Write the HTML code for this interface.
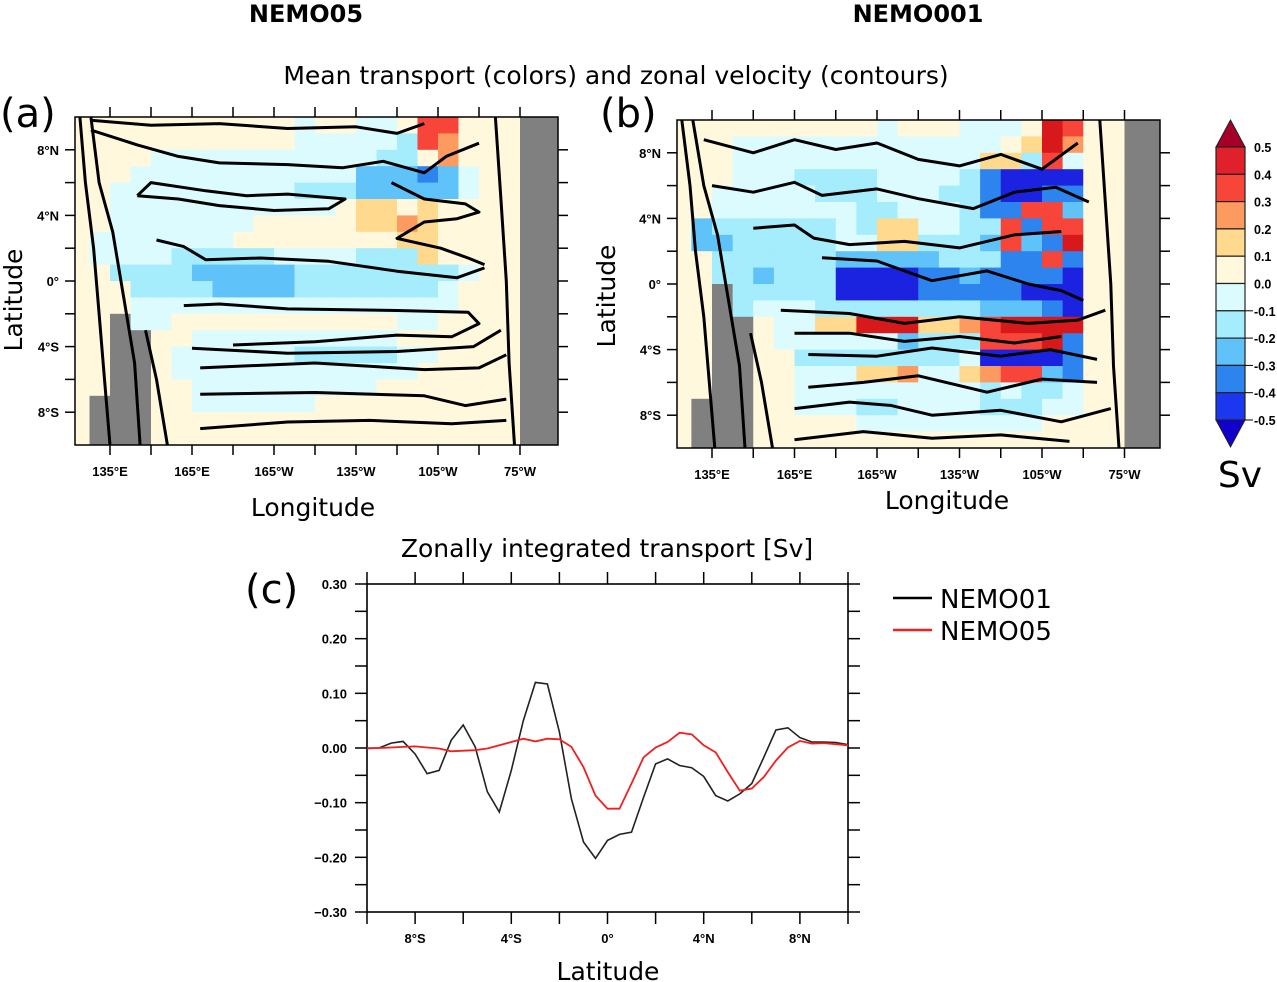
<!DOCTYPE html>
<html><head><meta charset="utf-8"><style>
html,body{margin:0;padding:0;background:#fff;}
svg{display:block;font-family:"Liberation Sans",sans-serif;}
.dj{font-family:"DejaVu Sans","Liberation Sans",sans-serif;}
</style></head><body>
<svg id="fig" width="1277" height="982" viewBox="0 0 1277 982" xmlns="http://www.w3.org/2000/svg">
<text class="dj" x="306" y="22" font-size="24" font-weight="bold" text-anchor="middle">NEMO05</text>
<text class="dj" x="918" y="22" font-size="24" font-weight="bold" text-anchor="middle">NEMO001</text>
<text class="dj" x="616" y="84" font-size="25" text-anchor="middle">Mean transport (colors) and zonal velocity (contours)</text>
<text class="dj" x="0" y="127" font-size="40">(a)</text>
<text class="dj" x="600" y="127" font-size="40">(b)</text>
<text class="dj" transform="translate(22,300) rotate(-90)" font-size="25" text-anchor="middle">Latitude</text>
<text class="dj" transform="translate(615,296) rotate(-90)" font-size="25" text-anchor="middle">Latitude</text>
<text class="dj" x="313" y="516" font-size="25" text-anchor="middle">Longitude</text>
<text class="dj" x="947" y="509" font-size="25" text-anchor="middle">Longitude</text>
<text class="dj" x="1240" y="487" font-size="36" text-anchor="middle">Sv</text>
<text class="dj" x="607" y="557" font-size="25" text-anchor="middle">Zonally integrated transport [Sv]</text>
<text class="dj" x="245" y="603" font-size="40">(c)</text>
<text class="dj" x="608" y="980" font-size="25" text-anchor="middle">Latitude</text>
<g id="layer"></g>
</svg>
<script>
// ---------- data ----------
const lonTicks=[135,165,195,225,255,285];
const lonTickLabels=["135°E","165°E","165°W","135°W","105°W","75°W"];
const latTicks=[8,4,0,-4,-8];
const latTickLabels=["8°N","4°N","0°","4°S","8°S"];
const cbLevels=[0.5,0.4,0.3,0.2,0.1,0.0,-0.1,-0.2,-0.3,-0.4,-0.5];
const cbLabels=["0.5","0.4","0.3","0.2","0.1","0.0","-0.1","-0.2","-0.3","-0.4","-0.5"];
// heatmap codes: . cream, o light orange, O orange, r red, R dark red, c light cyan, b light blue, m mid blue, B blue, N navy, g land
const heatA=[
"...........c..cc.rr...gg",
"...........cccccbrO...gg",
"....cccccccccccbb.O...gg",
"...cccccccccccmmmBmc..gg",
"..cccccccccbbbmmmmmc..gg",
"..ccccccccccc.oo.o....gg",
"..ccccccc.....ooOo....gg",
".ccccccc........oo....gg",
".ccccbbbbbccccbbbo....gg",
"..bbbbmmmmmbbbbbbbbc..gg",
"...bbbbmmmmbbbbbbbc...gg",
"...cccccccccccccccc...gg",
"..gcc...........cc....gg",
"..gg..cccccccccc......gg",
"..gg.ccccccbbbbbcc....gg",
"..gg.cccccccccccc.....gg",
"..gg..ccccccccc.......gg",
".ggg..cccccc..........gg",
".ggg..................gg",
".ggg..................gg"];
const heatB=[
"..........c...ccc.Rr..gg",
"...ccccccccccccc.oRO..gg",
"...ccccccccccccoobrc..gg",
"...cccbbbbccccbBNNNN..gg",
"..cccccbbbcccbbBNNBB..gg",
"..cccccccbbcccbBBrrm..gg",
".mbbbbbbcbooccbbrBrr..gg",
".mmbbbbbccoobbbmrmBR..gg",
"..bbbbbbmmmmmbbbBBrB..gg",
"..bbmbbbNNNNBBmBBBBN..gg",
"..gbbbbbNNNNBBBBBNNN..gg",
"..gbcccbbbbbbbbmmmBN..gg",
"..gg.ccooRRRooOrRRRR..gg",
"..gg.ccccccmbbbrrrRB..gg",
"..gg..bbbbbbbbcNNNNB..gg",
"..gg..cccooOccoOrrmB..gg",
"..gg..cccccccccbcbbc..gg",
".ggg..cccbbccccbbbcc..gg",
".ggg.....ccccccccc....gg",
".ggg..................gg"];
// contours: polylines in [lon, lat]
const contA=[
[[128,9.2],[145,8.3],[160,7.6],[175,7.2],[200,7.1],[220,6.9],[235,7.3],[250,6.6],[258,7.6],[270,8.4]],
[[128,9.8],[150,9.5],[175,9.6],[200,9.3],[225,9.4],[240,9.0],[250,9.6]],
[[145,5.2],[160,5.0],[175,4.6],[195,4.3],[215,4.4],[221,5.0],[200,5.3],[185,5.2],[170,5.5],[150,6.0],[145,5.2]],
[[238,6.0],[250,5.0],[265,4.7],[270,4.2],[262,3.8],[250,3.6],[244,3.0],[240,2.6],[256,2.0],[266,1.4],[272,1.0]],
[[152,2.5],[162,2.1],[170,1.3],[190,1.4],[215,1.2],[240,0.6],[262,0.2],[272,0.8]],
[[162,-1.5],[175,-1.4],[200,-1.7],[240,-1.8],[266,-1.9],[270,-2.6],[260,-3.4],[240,-3.3],[210,-3.7],[180,-3.9]],
[[165,-4.1],[200,-4.4],[240,-4.3],[268,-4.0],[278,-3.0]],
[[168,-5.3],[210,-5.0],[250,-5.4],[270,-5.3],[280,-4.5]],
[[168,-6.9],[210,-6.8],[250,-7.0],[265,-7.6],[280,-7.2]],
[[168,-9.0],[200,-8.6],[230,-8.5],[260,-8.7],[280,-8.5]],
[[124,10],[126,6],[129,2],[131,-2],[133,-6],[135,-10]],
[[128,10],[131,6],[136,3],[140,-1],[144,-5],[146,-10]],
[[148,-3],[152,-6],[156,-10]],
[[276,10],[278,5],[280,0],[281,-5],[283,-10]]];
const contB=[
[[132,8.8],[150,8.0],[165,8.8],[180,8.2],[195,8.6],[210,7.6],[225,7.2],[240,7.9],[255,7.0],[268,8.6]],
[[135,6.0],[150,5.6],[165,6.2],[175,5.4],[195,5.8],[210,5.2],[230,4.6],[245,5.6],[260,5.9],[272,5.0]],
[[150,3.4],[165,3.6],[172,2.8],[185,2.4],[205,2.6],[225,2.2],[245,3.0],[262,3.2]],
[[175,1.6],[195,1.4],[215,0.2],[235,0.8],[250,0.0],[262,-0.4],[270,-1.0]],
[[160,-1.6],[185,-1.8],[205,-2.4],[225,-2.0],[250,-2.4],[268,-2.2],[278,-1.6]],
[[165,-3.0],[185,-3.0],[205,-3.5],[225,-3.2],[245,-3.6],[262,-3.2]],
[[170,-4.3],[195,-4.4],[215,-3.9],[240,-4.4],[258,-4.0],[275,-4.6]],
[[170,-6.3],[190,-6.0],[210,-5.6],[235,-6.6],[255,-5.8],[275,-6.0]],
[[165,-7.6],[185,-7.2],[200,-7.4],[215,-8.0],[240,-7.7],[262,-8.4],[280,-7.6]],
[[165,-9.5],[190,-9.0],[215,-9.4],[240,-9.2],[265,-9.6]],
[[124,10],[127,6],[129,2],[132,-2],[134,-6],[136,-10]],
[[128,10],[132,6],[137,3],[141,-1],[145,-5],[147,-10]],
[[149,-3],[153,-6],[157,-10]],
[[276,10],[278,5],[280,0],[281,-5],[283,-10]]];
// line chart
const lats=[-10,-9.5,-9,-8.5,-8,-7.5,-7,-6.5,-6,-5.5,-5,-4.5,-4,-3.5,-3,-2.5,-2,-1.5,-1,-0.5,0,0.5,1,1.5,2,2.5,3,3.5,4,4.5,5,5.5,6,6.5,7,7.5,8,8.5,9,9.5,10];
const nemo01=[0,0,0.009,0.012,-0.011,-0.047,-0.041,0.014,0.042,0.002,-0.08,-0.117,-0.041,0.05,0.12,0.117,0.029,-0.093,-0.172,-0.202,-0.169,-0.158,-0.154,-0.09,-0.029,-0.02,-0.032,-0.036,-0.052,-0.087,-0.097,-0.084,-0.065,-0.017,0.033,0.037,0.019,0.011,0.011,0.01,0.006];
const nemo05=[-0.001,0,0.001,0.002,0.003,0.001,-0.001,-0.006,-0.005,-0.004,-0.001,0.005,0.011,0.017,0.012,0.017,0.016,0.002,-0.035,-0.087,-0.111,-0.111,-0.065,-0.017,0.001,0.011,0.028,0.025,0.005,-0.008,-0.044,-0.078,-0.074,-0.053,-0.023,0.001,0.013,0.008,0.009,0.007,0.005];
const yTicks=[0.3,0.2,0.1,0,-0.1,-0.2,-0.3];
const yTickLabels=["0.30","0.20","0.10","0.00","\u22120.10","\u22120.20","\u22120.30"];
const xTicksC=[-8,-4,0,4,8];
const xTickLabelsC=["8°S","4°S","0°","4°N","8°N"];

// ---------- helpers ----------
const NS="http://www.w3.org/2000/svg";
const layer=document.getElementById('layer');
function mk(tag,attrs,parent){const e=document.createElementNS(NS,tag);for(const k in attrs)e.setAttribute(k,attrs[k]);(parent||layer).appendChild(e);return e;}
const colors={'.':'#fff8dc','o':'#fed98e','O':'#fd9a60','r':'#f7453a','R':'#d7191c','c':'#dcfbff','b':'#a5ecfc','m':'#5fc2f9','B':'#2d84ee','N':'#1b22e0','g':'#808080'};
const cbColors=['#a50026','#e0202a','#f7453a','#fd9a60','#fed98e','#fff8dc','#dcfbff','#a5ecfc','#5fc2f9','#2d84ee','#1b38f0','#1100cc'];

function drawMap(id,box,heat,conts){
  const xs=lon=>box.x135+(lon-135)*box.k/30;
  const ys=lat=>box.y0-lat*box.ky;
  const g=mk('g',{});
  
  
  const cp=mk('clipPath',{id:id+'clip'},g);
  mk('rect',{x:box.l,y:box.t,width:box.r-box.l,height:box.b-box.t},cp);
  const inner=mk('g',{'clip-path':'url(#'+id+'clip)'},g);
  mk('rect',{x:box.l,y:box.t,width:box.r-box.l,height:box.b-box.t,fill:'#fff8dc'},inner);
  heat.forEach((row,ri)=>{
    for(let ci=0;ci<row.length;ci++){
      const ch=row[ci];
      const lon0=120+7.5*ci, lat0=10-ri;
      const x0=xs(lon0),x1=xs(lon0+7.5),y0=ys(lat0),y1=ys(lat0-1);
      const c=mk('rect',{x:x0,y:y0,width:x1-x0+0.5,height:y1-y0+0.5,fill:colors[ch]},inner);
      
      
    }
  });
  conts.forEach(pl=>{
    const p=mk('polyline',{points:pl.map(q=>xs(q[0]).toFixed(1)+','+ys(q[1]).toFixed(1)).join(' '),fill:'none',stroke:'#000','stroke-width':3,'stroke-linejoin':'round'},inner);
    
    
  });
  mk('rect',{x:box.l,y:box.t,width:box.r-box.l,height:box.b-box.t,fill:'none',stroke:'#000','stroke-width':1.5},g);
  for(let lon=120;lon<=300;lon+=15){
    const x=xs(lon); if(x<box.l+1||x>box.r-1)continue;
    mk('line',{x1:x,x2:x,y1:box.b,y2:box.b+10,stroke:'#000','stroke-width':1.5},g);
    mk('line',{x1:x,x2:x,y1:box.t,y2:box.t-10,stroke:'#000','stroke-width':1.5},g);
  }
  lonTicks.forEach((lon,i)=>{
    const t=mk('text',{x:xs(lon),y:box.b+31,'font-size':13,'font-weight':'bold','text-anchor':'middle'},g);
    t.textContent=lonTickLabels[i];
    
    
  });
  for(let lat=-8;lat<=8;lat+=2){
    const y=ys(lat);
    mk('line',{x1:box.l,x2:box.l-10,y1:y,y2:y,stroke:'#000','stroke-width':1.5},g);
    mk('line',{x1:box.r,x2:box.r+10,y1:y,y2:y,stroke:'#000','stroke-width':1.5},g);
  }
  latTicks.forEach((lat,i)=>{
    const t=mk('text',{x:box.l-16,y:ys(lat)+5,'font-size':13,'font-weight':'bold','text-anchor':'end'},g);
    t.textContent=latTickLabels[i];
    
    
  });
}
drawMap('panel-a',{l:75,r:558,t:117,b:445,x135:110,k:82,y0:281,ky:16.4},heatA,contA);
drawMap('panel-b',{l:677,r:1160,t:120,b:448,x135:712,k:82.5,y0:284,ky:16.4},heatB,contB);

// colorbar
(function(){
  const g=mk('g',{});
  
  
  const x0=1216,x1=1245,top=147,h=27.3;
  mk('polygon',{points:`${x0},${top} ${x1},${top} ${(x0+x1)/2},${top-27}`,fill:cbColors[0],stroke:'#222','stroke-width':1},g);
  for(let i=0;i<10;i++){
    const r=mk('rect',{x:x0,y:top+i*h,width:x1-x0,height:h,fill:cbColors[i+1],stroke:'#222','stroke-width':1.2},g);
    
    
  }
  const bot=top+10*h;
  mk('polygon',{points:`${x0},${bot} ${x1},${bot} ${(x0+x1)/2},${bot+27}`,fill:cbColors[11],stroke:'#222','stroke-width':1},g);
  cbLevels.forEach((v,i)=>{
    const y=top+i*h;
    if(v<0) mk('line',{x1:x1,x2:x1+8,y1:y,y2:y,stroke:'#000','stroke-width':1},g);
    const t=mk('text',{x:1254,y:y+5,'font-size':12.5,'font-weight':'bold'},g);
    t.textContent=cbLabels[i];
    
    
  });
})();

// line chart
(function(){
  const L=367,R=848,T=584,B=912;
  const xs=lat=>L+(lat+10)*(R-L)/20;
  const ys=v=>T+(0.3-v)*(B-T)/0.6;
  const g=mk('g',{});
  
  
  mk('rect',{x:L,y:T,width:R-L,height:B-T,fill:'none',stroke:'#000','stroke-width':1.6},g);
  for(let v=-0.3;v<=0.301;v+=0.05){
    const y=ys(v);
    mk('line',{x1:L-12,x2:L,y1:y,y2:y,stroke:'#000','stroke-width':1.5},g);
    mk('line',{x1:R,x2:R+12,y1:y,y2:y,stroke:'#000','stroke-width':1.5},g);
  }
  for(let la=-10;la<=10;la+=2){
    const x=xs(la);
    mk('line',{x1:x,x2:x,y1:B,y2:B+12,stroke:'#000','stroke-width':1.5},g);
    mk('line',{x1:x,x2:x,y1:T,y2:T-12,stroke:'#000','stroke-width':1.5},g);
  }
  yTicks.forEach((v,i)=>{
    const t=mk('text',{x:L-20,y:ys(v)+5,'font-size':13,'font-weight':'bold','text-anchor':'end'},g);
    t.textContent=yTickLabels[i];
    
    
  });
  xTicksC.forEach((v,i)=>{
    const t=mk('text',{x:xs(v),y:B+31,'font-size':13,'font-weight':'bold','text-anchor':'middle'},g);
    t.textContent=xTickLabelsC[i];
    
    
  });
  const l1=mk('polyline',{points:lats.map((la,i)=>xs(la).toFixed(1)+','+ys(nemo01[i]).toFixed(1)).join(' '),fill:'none',stroke:'#222','stroke-width':1.6},g);
  
  
  const l2=mk('polyline',{points:lats.map((la,i)=>xs(la).toFixed(1)+','+ys(nemo05[i]).toFixed(1)).join(' '),fill:'none',stroke:'#f02020','stroke-width':1.8},g);
  
  
  const lg=mk('g',{},g);
  
  
  mk('line',{x1:893,x2:932,y1:598,y2:598,stroke:'#000','stroke-width':2.5},lg);
  mk('line',{x1:893,x2:932,y1:630,y2:630,stroke:'#f02020','stroke-width':2.5},lg);
  const t1=mk('text',{x:940,y:608,'font-size':26,'class':'dj'},lg);t1.textContent='NEMO01';
  
  
  const t2=mk('text',{x:940,y:640,'font-size':26,'class':'dj'},lg);t2.textContent='NEMO05';
  
  
})();
</script>
</body></html>
